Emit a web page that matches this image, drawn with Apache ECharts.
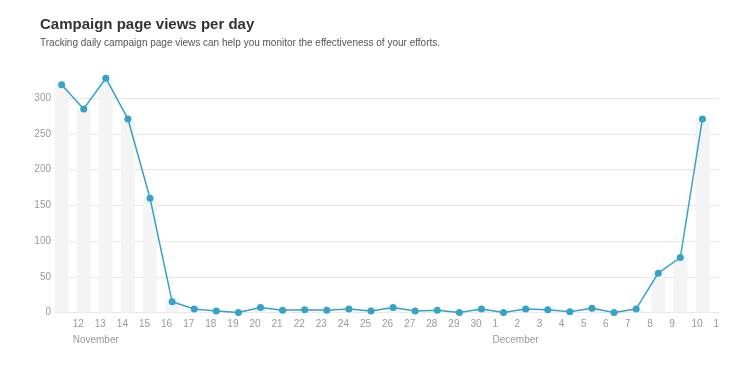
<!DOCTYPE html>
<html>
<head>
<meta charset="utf-8">
<script src="https://cdn.jsdelivr.net/npm/echarts@6/dist/echarts.min.js"></script>
<style>
  html, body { margin: 0; padding: 0; background: #ffffff; }
  #chart { width: 750px; height: 366px; }
</style>
</head>
<body>
<div id="chart"></div>
<script>
// Days shown (Nov 11 .. Dec 10)
const dayNumbers = [11,12,13,14,15,16,17,18,19,20,21,22,23,24,25,26,27,28,29,30,1,2,3,4,5,6,7,8,9,10];
// Page views per day
const views = [319,285,328,271,160,15,5,2,0,7,3,4,3,5,2,7,2,3,0,5,0,5,4,1,6,0,5,55,77,271];
// Tick labels placed at the start of each day (from Nov 12 to Dec 11)
const tickLabels = ['12','13','14','15','16','17','18','19','20','21','22','23','24','25','26','27','28','29','30','1','2','3','4','5','6','7','8','9','10','1'];
// Month labels and the day-boundary position they sit under
const monthLabels = ['November','December'];
const monthLabelAt = [1, 20];
const yTicks = [0,50,100,150,200,250,300];

const font = '"Liberation Sans", Arial, sans-serif';
const lineColor = '#36a2c7';

const pointData = views.map((v, i) => [i + 0.5, v]);
const tickPositions = tickLabels.map((_, k) => k + 1);

const baseX = {
  type: 'value',
  min: 0.2,
  max: 30.25,
  position: 'bottom',
  axisLine: { show: false },
  axisTick: { show: false },
  splitLine: { show: false }
};

const chart = echarts.init(document.getElementById('chart'), null, { renderer: 'canvas' });
chart.setOption({
  animation: false,
  backgroundColor: '#ffffff',
  title: [
    {
      text: 'Campaign page views per day',
      left: 40, top: 16, padding: 0,
      textStyle: { fontFamily: font, fontSize: 15, fontWeight: 'bold', color: '#333333', lineHeight: 18 }
    },
    {
      text: 'Tracking daily campaign page views can help you monitor the effectiveness of your efforts.',
      left: 40, top: 37, padding: 0,
      textStyle: { fontFamily: font, fontSize: 10, fontWeight: 'normal', color: '#555555', lineHeight: 12 }
    }
  ],
  grid: { left: 55, right: 31, top: 62.5, bottom: 53.5, containLabel: false },
  xAxis: [
    Object.assign({}, baseX, {
      axisLabel: {
        customValues: tickPositions,
        showMinLabel: true,
        showMaxLabel: true,
        align: 'left',
        margin: 7,
        fontFamily: font,
        fontSize: 10,
        color: '#999999',
        formatter: function (val) { return tickLabels[Math.round(val) - 1] || ''; }
      }
    }),
    Object.assign({}, baseX, {
      axisLabel: {
        customValues: monthLabelAt,
        showMinLabel: true,
        showMaxLabel: true,
        align: 'left',
        margin: 23,
        fontFamily: font,
        fontSize: 10,
        color: '#999999',
        formatter: function (val) {
          const m = monthLabelAt.indexOf(Math.round(val));
          return m >= 0 ? monthLabels[m] : '';
        }
      }
    })
  ],
  yAxis: {
    type: 'value',
    min: 0,
    max: 350,
    interval: 50,
    axisLine: { show: false },
    axisTick: { show: false },
    splitLine: { show: true, showMaxLine: false, lineStyle: { color: '#e6e6e6', width: 1 } },
    axisLabel: {
      showMaxLabel: false,
      margin: 4,
      fontFamily: font,
      fontSize: 10,
      color: '#999999',
      formatter: function (v) { return yTicks.indexOf(v) >= 0 ? String(v) : ''; }
    }
  },
  series: [
    {
      type: 'bar',
      xAxisIndex: 0,
      data: pointData,
      barWidth: 14,
      itemStyle: { color: '#f4f4f4' },
      silent: true,
      z: 1
    },
    {
      type: 'line',
      xAxisIndex: 0,
      data: pointData,
      symbol: 'circle',
      symbolSize: 7,
      showAllSymbol: true,
      lineStyle: { color: lineColor, width: 1.5 },
      itemStyle: { color: lineColor },
      z: 3
    }
  ]
});
</script>
</body>
</html>
